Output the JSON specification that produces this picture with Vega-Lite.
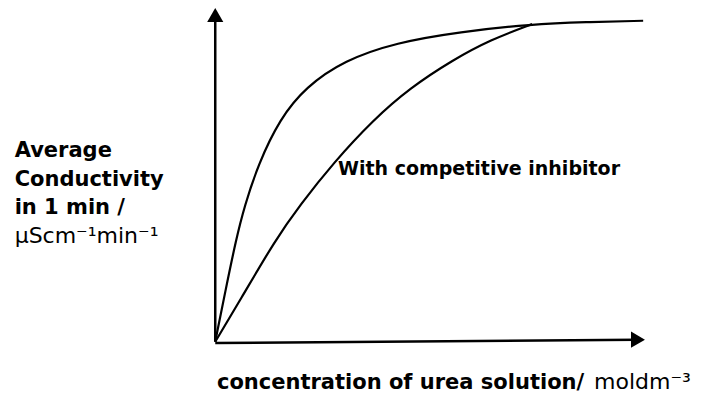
{
  "$schema": "https://vega.github.io/schema/vega-lite/v6.json",
  "width": 706,
  "height": 412,
  "padding": 0,
  "autosize": {"type": "fit", "contains": "padding"},
  "background": "white",
  "config": {"view": {"stroke": null}},
  "datasets": {
    "curves": [
      {"series": "Without inhibitor", "order": 0, "conc": 0, "cond": 0},
      {"series": "Without inhibitor", "order": 1, "conc": 0.24, "cond": 1.54},
      {"series": "Without inhibitor", "order": 2, "conc": 0.48, "cond": 3.03},
      {"series": "Without inhibitor", "order": 3, "conc": 0.68, "cond": 4.05},
      {"series": "Without inhibitor", "order": 4, "conc": 1.0, "cond": 5.3},
      {"series": "Without inhibitor", "order": 5, "conc": 1.5, "cond": 6.65},
      {"series": "Without inhibitor", "order": 6, "conc": 2.1, "cond": 7.6},
      {"series": "Without inhibitor", "order": 7, "conc": 3.0, "cond": 8.4},
      {"series": "Without inhibitor", "order": 8, "conc": 4.2, "cond": 8.93},
      {"series": "Without inhibitor", "order": 9, "conc": 5.68, "cond": 9.25},
      {"series": "Without inhibitor", "order": 10, "conc": 7.36, "cond": 9.48},
      {"series": "Without inhibitor", "order": 11, "conc": 8.6, "cond": 9.54},
      {"series": "Without inhibitor", "order": 12, "conc": 9.94, "cond": 9.58},
      {"series": "With competitive inhibitor", "order": 0, "conc": 0, "cond": 0},
      {"series": "With competitive inhibitor", "order": 1, "conc": 0.58, "cond": 1.24},
      {"series": "With competitive inhibitor", "order": 2, "conc": 1.39, "cond": 3.03},
      {"series": "With competitive inhibitor", "order": 3, "conc": 1.97, "cond": 4.08},
      {"series": "With competitive inhibitor", "order": 4, "conc": 2.74, "cond": 5.33},
      {"series": "With competitive inhibitor", "order": 5, "conc": 3.67, "cond": 6.62},
      {"series": "With competitive inhibitor", "order": 6, "conc": 4.52, "cond": 7.57},
      {"series": "With competitive inhibitor", "order": 7, "conc": 5.52, "cond": 8.41},
      {"series": "With competitive inhibitor", "order": 8, "conc": 6.39, "cond": 9.01},
      {"series": "With competitive inhibitor", "order": 9, "conc": 7.36, "cond": 9.48}
    ],
    "axes": [
      {"axis": "y", "x": 0, "y": 0, "x2": 0, "y2": 9.75},
      {"axis": "x", "x": 0, "y": -0.04, "x2": 9.8, "y2": 0.06}
    ],
    "arrows": [
      {"axis": "y", "x": 0, "y": 9.75, "dir": "triangle-up"},
      {"axis": "x", "x": 9.82, "y": 0.06, "dir": "triangle-right"}
    ],
    "boldLabels": [
      {"label": "Average", "x": -4.66, "y": 5.51},
      {"label": "Conductivity", "x": -4.66, "y": 4.64},
      {"label": "in 1 min /", "x": -4.66, "y": 3.81},
      {"label": "concentration of urea solution/", "x": 0.04, "y": -1.4}
    ],
    "regularLabels": [
      {"label": "μScm⁻¹min⁻¹", "x": -4.66, "y": 2.94},
      {"label": "moldm⁻³", "x": 8.8, "y": -1.4}
    ],
    "annot": [
      {"label": "With competitive inhibitor", "x": 2.85, "y": 4.98}
    ]
  },
  "layer": [
    {
      "data": {"name": "axes"},
      "mark": {"type": "rule", "color": "black", "strokeWidth": 2.5},
      "encoding": {
        "x": {"field": "x", "type": "quantitative", "scale": {"domain": [-5, 11.4], "nice": false, "zero": false}, "axis": null},
        "y": {"field": "y", "type": "quantitative", "scale": {"domain": [-2.1, 10.2], "nice": false, "zero": false}, "axis": null},
        "x2": {"field": "x2"},
        "y2": {"field": "y2"}
      }
    },
    {
      "data": {"name": "arrows"},
      "mark": {"type": "point", "filled": true, "color": "black", "opacity": 1, "size": 260},
      "encoding": {
        "x": {"field": "x", "type": "quantitative"},
        "y": {"field": "y", "type": "quantitative"},
        "shape": {"field": "dir", "type": "nominal", "scale": {"domain": ["triangle-up", "triangle-right"], "range": ["triangle-up", "triangle-right"]}, "legend": null}
      }
    },
    {
      "data": {"name": "curves"},
      "mark": {"type": "line", "color": "black", "strokeWidth": 2.2, "interpolate": "basis"},
      "encoding": {
        "x": {"field": "conc", "type": "quantitative"},
        "y": {"field": "cond", "type": "quantitative"},
        "detail": {"field": "series", "type": "nominal"},
        "order": {"field": "order", "type": "quantitative"}
      }
    },
    {
      "data": {"name": "boldLabels"},
      "mark": {"type": "text", "align": "left", "baseline": "alphabetic", "font": "DejaVu Sans", "fontWeight": "bold", "fontSize": 21, "color": "black"},
      "encoding": {
        "x": {"field": "x", "type": "quantitative"},
        "y": {"field": "y", "type": "quantitative"},
        "text": {"field": "label", "type": "nominal"}
      }
    },
    {
      "data": {"name": "regularLabels"},
      "mark": {"type": "text", "align": "left", "baseline": "alphabetic", "font": "DejaVu Sans", "fontSize": 22, "color": "black"},
      "encoding": {
        "x": {"field": "x", "type": "quantitative"},
        "y": {"field": "y", "type": "quantitative"},
        "text": {"field": "label", "type": "nominal"}
      }
    },
    {
      "data": {"name": "annot"},
      "mark": {"type": "text", "align": "left", "baseline": "alphabetic", "font": "DejaVu Sans", "fontWeight": "bold", "fontSize": 19, "color": "black"},
      "encoding": {
        "x": {"field": "x", "type": "quantitative"},
        "y": {"field": "y", "type": "quantitative"},
        "text": {"field": "label", "type": "nominal"}
      }
    }
  ]
}
